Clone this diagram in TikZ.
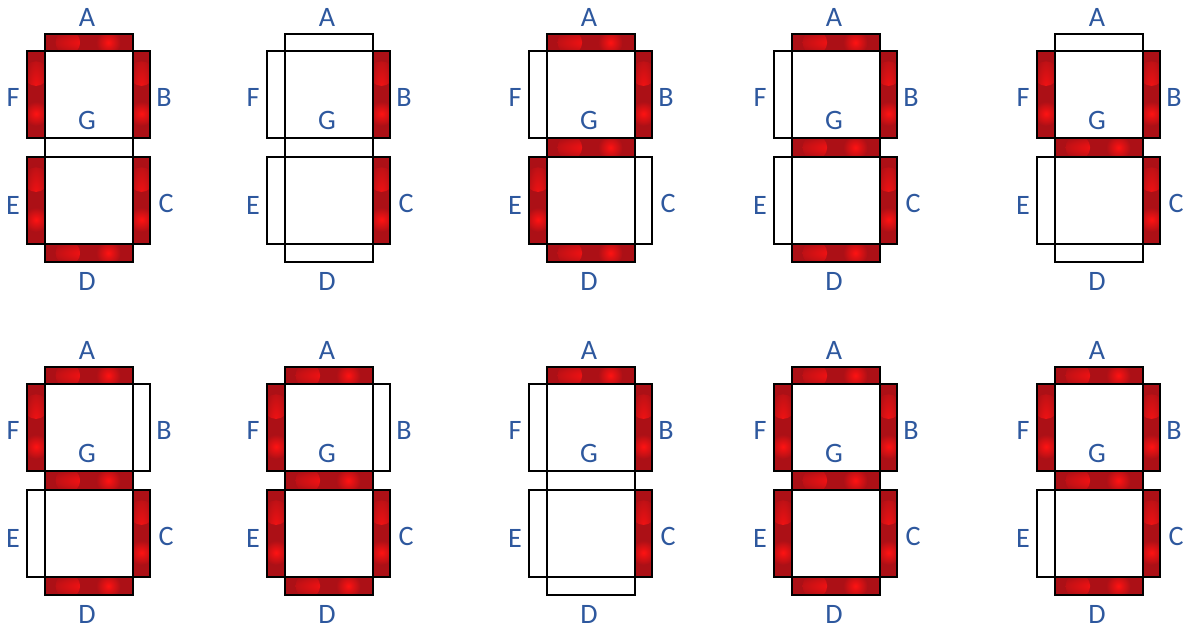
\documentclass[tikz,border=0pt]{standalone}
\usepackage{fontspec}
\setmainfont{Carlito}
\usetikzlibrary{calc}

\definecolor{segred}{RGB}{172,16,22}
\definecolor{glow}{RGB}{255,18,18}
\definecolor{labelblue}{RGB}{46,88,158}

\tikzset{
  hoff/.style={draw=black, fill=white, line width=0.8pt},
  voff/.style={hoff},
  hon/.style={draw=black, fill=segred, line width=0.8pt, path picture={
      \foreach \t in {0.26,0.72}
        \shade[inner color=glow, outer color=segred]
          ($(path picture bounding box.west)!\t!(path picture bounding box.east)$) circle (7pt);}},
  von/.style={draw=black, fill=segred, line width=0.8pt, path picture={
      \foreach \t in {0.26,0.72}
        \shade[inner color=glow, outer color=segred]
          ($(path picture bounding box.north)!\t!(path picture bounding box.south)$) circle (7pt);}},
  seglabel/.style={text=labelblue, font=\fontsize{16}{18}\selectfont, inner sep=0pt}
}

% #1 position, #2 name, #3..#9 segments A B C D E F G (on/off)
\newcommand\sevenseg[9]{%
  \begin{scope}[shift={#1}, name prefix=#2-]
    \path[h#3] (18,0) rectangle (106,17);
    \path[v#4] (106,17) rectangle (123,104);
    \path[v#5] (106,123) rectangle (123,210);
    \path[h#6] (18,210) rectangle (106,228);
    \path[v#7] (0,123) rectangle (18,210);
    \path[v#8] (0,17) rectangle (18,104);
    \path[h#9] (18,104) rectangle (106,123);
    \node[seglabel] (a) at (60,-17) {A};
    \node[seglabel] (b) at (137,63) {B};
    \node[seglabel] (c) at (139,169) {C};
    \node[seglabel] (d) at (60,247) {D};
    \node[seglabel] (e) at (-14,171) {E};
    \node[seglabel] (f) at (-14,63) {F};
    \node[seglabel] (g) at (60,86) {G};
  \end{scope}}

\begin{document}
\begin{tikzpicture}[x=0.02cm, y=-0.02cm]
\useasboundingbox (0,0) rectangle (1189,630);
% top row: 0 1 2 3 4
\sevenseg{(27,34)}{zero}{on}{on}{on}{on}{on}{on}{off}
\sevenseg{(267,34)}{one}{off}{on}{on}{off}{off}{off}{off}
\sevenseg{(529,34)}{two}{on}{on}{off}{on}{on}{off}{on}
\sevenseg{(774,34)}{three}{on}{on}{on}{on}{off}{off}{on}
\sevenseg{(1037,34)}{four}{off}{on}{on}{off}{off}{on}{on}
% bottom row: 5 6 7 8 9
\sevenseg{(27,367)}{five}{on}{off}{on}{on}{off}{on}{on}
\sevenseg{(267,367)}{six}{on}{off}{on}{on}{on}{on}{on}
\sevenseg{(529,367)}{seven}{on}{on}{on}{off}{off}{off}{off}
\sevenseg{(774,367)}{eight}{on}{on}{on}{on}{on}{on}{on}
\sevenseg{(1037,367)}{nine}{on}{on}{on}{on}{off}{on}{on}
\end{tikzpicture}
\end{document}
